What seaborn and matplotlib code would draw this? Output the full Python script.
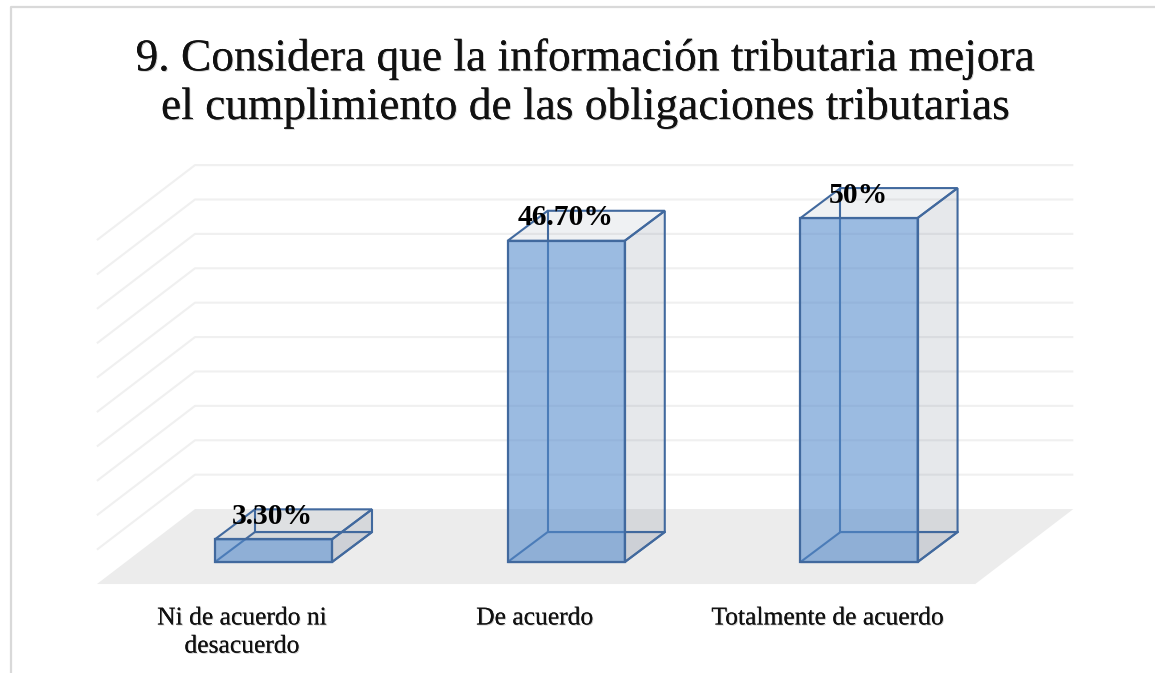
import seaborn as sns
import matplotlib.pyplot as plt
import matplotlib.patheffects as pe
from matplotlib.lines import Line2D
from matplotlib.patches import Polygon

categories = ["Ni de acuerdo ni\ndesacuerdo", "De acuerdo", "Totalmente de acuerdo"]
values = [3.3, 46.7, 50]
value_labels = ["3.30%", "46.70%", "50%"]
grid_ticks = [0, 5, 10, 15, 20, 25, 30, 35, 40, 45, 50]
title = "9. Considera que la información tributaria mejora\nel cumplimiento de las obligaciones tributarias"

EDGE = "#41699e"
DX, DY = 0.1366, 4.36  # depth of a bar
FX, FY = 0.335, 10.9  # depth of the floor
FX0, FY0 = -0.603, -3.2  # front left corner of the floor

sns.set_theme(style="white")
plt.rcParams['font.family'] = ['Liberation Serif', 'DejaVu Serif']

fig, ax = plt.subplots(figsize=(11.55, 6.73), dpi=100)
ax.set_position([0, 0, 1, 1])

sns.barplot(x=categories, y=values, width=0.4, color="#4f81bd", saturation=1,
            edgecolor=EDGE, linewidth=1.6, ax=ax, zorder=6)
ax.set_xlim(-0.934, 3.011)
ax.set_ylim(-16.13, 81.7)
ax.axis("off")

for _p in ax.patches:
    _p.set_facecolor((0.325, 0.54, 0.80, 0.58))

# floor and walls
ax.add_patch(Polygon([(FX0, FY0), (FX0 + 3, FY0), (FX0 + 3 + FX, FY0 + FY), (FX0 + FX, FY0 + FY)],
                     fc="#ececec", ec="none", zorder=1))
for _t in grid_ticks[1:]:
    _y = FY0 + FY + _t
    ax.plot([FX0, FX0 + FX, FX0 + 3 + FX], [_y - FY, _y, _y], c="#f0f0f0", lw=1.5,
            solid_capstyle="butt", zorder=2)

# 3d part of the bars, from the bar rectangles
for _p in ax.patches[:3]:
    _x0, _w, _h = _p.get_x(), _p.get_width(), _p.get_height()
    _x1 = _x0 + _w
    ax.add_patch(Polygon([(_x1, 0), (_x1 + DX, DY), (_x1 + DX, _h + DY), (_x1, _h)],
                         fc=(0.42, 0.47, 0.55, 0.17), ec=EDGE, lw=1.5, zorder=4))
    ax.add_patch(Polygon([(_x0, _h), (_x1, _h), (_x1 + DX, _h + DY), (_x0 + DX, _h + DY)],
                         fc=(0.42, 0.47, 0.55, 0.10), ec=EDGE, lw=1.5, zorder=4))
    ax.add_patch(Polygon([(_x0, 0), (_x1, 0), (_x1 + DX, DY), (_x0 + DX, DY)],
                         fc=(0.42, 0.47, 0.55, 0.07), ec=EDGE, lw=1.5, zorder=3))
    ax.plot([_x0 + DX, _x0 + DX], [DY, _h + DY], c=EDGE, lw=1.5, zorder=4)
    ax.plot([_x0 + DX, _x1 + DX], [DY, DY], c=EDGE, lw=1.5, zorder=4)

_shadow = [pe.withSimplePatchShadow(offset=(0.7, -0.7), shadow_rgbFace="#999999", alpha=0.5), pe.Normal()]

for _i, _v in enumerate(values):
    ax.text(_i - 0.003, _v + 3.35, value_labels[_i], ha="center", va="center", fontsize=21.3,
            fontweight="bold", color="black", zorder=8)
    ax.text(_i - 0.108, -6.6, categories[_i], ha="center", va="top", fontsize=18.4,
            color="#111111", linespacing=1.36, path_effects=_shadow, zorder=8)

fig.text(0.5065, 0.876, title, ha="center", va="center", fontsize=32.7, color="#111111",
         linespacing=1.26, path_effects=_shadow)

# chart frame
fig.add_artist(Line2D([10.5 / 1155, 10.5 / 1155, 1], [0, 1 - 6.5 / 673, 1 - 6.5 / 673],
                      c="#d9d9d9", lw=1.6))

fig.savefig("out.png", dpi=100)
